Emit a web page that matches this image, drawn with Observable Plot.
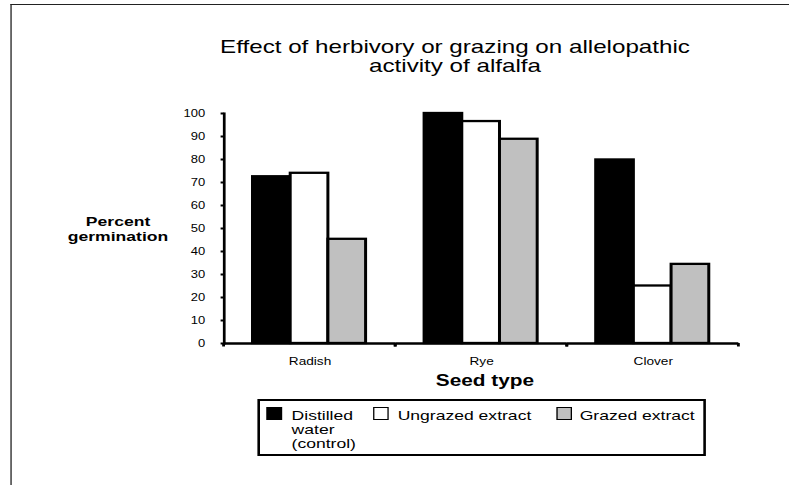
<!DOCTYPE html>
<html>
<head>
<meta charset="utf-8">
<script src="https://cdn.jsdelivr.net/npm/d3@7"></script>
<script src="https://cdn.jsdelivr.net/npm/@observablehq/plot@0.6"></script>
<style>
  html, body { margin: 0; padding: 0; background: #fff; overflow: hidden; }
  #stage {
    position: relative; width: 606.92px; height: 485px;
    transform: scaleX(1.3); transform-origin: 0 0;
    font-family: "Liberation Sans", Arial, sans-serif; color: #000;
  }
  #chart { position: absolute; left: 0; top: 0; }
  .frame-top { position: absolute; left: 7.5px; top: 4px; right: 0; height: 0; border-top: 1.5px solid #222; }
  .frame-left { position: absolute; left: 7.5px; top: 4px; bottom: 0; width: 0; border-left: 1.2px solid #222; }
  #title { position: absolute; left: 150px; width: 400px; top: 37.3px; text-align: center; font-size: 18.6px; line-height: 19px; }
  #ylabel { position: absolute; left: 40.8px; width: 100px; top: 215.4px; text-align: center; font-size: 13.5px; line-height: 14.5px; font-weight: bold; }
  #xlabel { position: absolute; left: 323px; width: 100px; top: 373.2px; text-align: center; font-size: 16px; line-height: 16px; font-weight: bold; }
  #legend {
    position: absolute; left: 197.7px; top: 399px; width: 345.4px; height: 57px; box-sizing: border-box;
    border-style: solid; border-color: #000; border-width: 2.5px 2.3px; background: #fff;
  }
  .sw { position: absolute; top: 5.5px; width: 11.5px; height: 13px; box-sizing: border-box; border: 1.2px solid #000; }
  .lt { position: absolute; top: 8.3px; font-size: 13.5px; line-height: 14px; white-space: nowrap; }
</style>
</head>
<body>
<div id="stage">
  <div id="chart"></div>
  <div class="frame-top"></div>
  <div class="frame-left"></div>
  <div id="title"></div>
  <div id="ylabel"></div>
  <div id="xlabel"></div>
  <div id="legend"></div>
</div>
<script>
// ---- data ----
const titleLines = ["Effect of herbivory or grazing on allelopathic", "activity of alfalfa"];
const yLabelLines = ["Percent", "germination"];
const xLabel = "Seed type";
const categories = ["Radish", "Rye", "Clover"];
const seriesNames = ["Distilled water (control)", "Ungrazed extract", "Grazed extract"];
const legendLines = [["Distilled", "water", "(control)"], ["Ungrazed extract"], ["Grazed extract"]];
const distilledWater = [72.5, 100, 79.8];
const ungrazedExtract = [74, 96.5, 25];
const grazedExtract = [45.3, 88.8, 34.4];
const yTicks = [0, 10, 20, 30, 40, 50, 60, 70, 80, 90, 100];
const seriesColors = ["#000000", "#ffffff", "#c0c0c0"];

// ---- layout ----
const S = 1.3;            // horizontal stretch of the whole figure
const W = 789 / S;

const seriesValues = [distilledWater, ungrazedExtract, grazedExtract];
const data = categories.flatMap((c, i) =>
  seriesNames.map((s, j) => ({category: c, series: s, value: seriesValues[j][i]})));

function boundaryTicks(index, scales, values, dimensions, context) {
  const g = d3.create("svg:g");
  try {
    const [x0, x1] = scales.x.range();
    const y0 = scales.y(0);
    for (const x of [x0, x1]) {
      g.append("line").attr("x1", x).attr("x2", x).attr("y1", y0).attr("y2", y0 + 3.5)
        .attr("stroke", "#000").attr("stroke-width", 2.2);
    }
  } catch (e) {}
  return g.node();
}

const chart = Plot.plot({
  width: W,
  height: 485,
  marginLeft: 222 / S,
  marginRight: 49 / S,
  marginTop: 113,
  marginBottom: 142,
  style: {fontFamily: '"Liberation Sans", Arial, sans-serif', color: "#000", background: "transparent", overflow: "visible"},
  fx: {domain: categories, padding: 0, label: null},
  x: {domain: seriesNames, paddingInner: 0, paddingOuter: 0.7, axis: null},
  y: {domain: [0, 100], label: null},
  color: {domain: seriesNames, range: seriesColors},
  marks: [
    Plot.barY(data, {fx: "category", x: "series", y: "value", fill: "series", stroke: "#000", strokeWidth: 2.3}),
    Plot.ruleY([0], {stroke: "#000", strokeWidth: 2.5}),
    Plot.frame({anchor: "left", facetAnchor: "left", stroke: "#000", strokeWidth: 2.1}),
    Plot.axisY({ticks: yTicks, tickSize: 3 / S, tickPadding: 12.3, fontSize: 10, strokeWidth: 2, label: null, facetAnchor: "left"}),
    Plot.axisFx({anchor: "bottom", tickSize: 0, tickPadding: 13.8, fontSize: 10.5, label: null}),
    boundaryTicks
  ]
});
document.getElementById("chart").appendChild(chart);

// ---- text & legend ----
document.getElementById("title").innerHTML = titleLines.join("<br>");
document.getElementById("ylabel").innerHTML = yLabelLines.join("<br>");
document.getElementById("xlabel").textContent = xLabel;

const legend = document.getElementById("legend");
const swLeft = [5.4, 87.7, 228.5];
const txLeft = [24.6, 106.2, 246.2];
seriesNames.forEach((s, i) => {
  const sw = document.createElement("div");
  sw.className = "sw";
  sw.style.left = swLeft[i] + "px";
  sw.style.background = seriesColors[i];
  legend.appendChild(sw);
  const t = document.createElement("div");
  t.className = "lt";
  t.style.left = txLeft[i] + "px";
  t.innerHTML = legendLines[i].join("<br>");
  legend.appendChild(t);
});
</script>
</body>
</html>
